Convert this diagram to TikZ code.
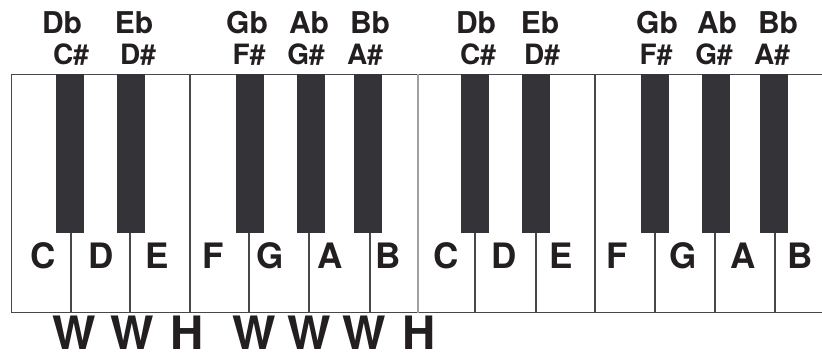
\documentclass[tikz,border=0pt]{standalone}
\usepackage{fontspec}
\setmainfont{TeX Gyre Heros}
\usepackage{tikz}
\usetikzlibrary{positioning}
\definecolor{keyblack}{RGB}{52,51,56}
\definecolor{keyline}{RGB}{72,72,76}
\definecolor{keyseamgray}{RGB}{160,160,160}
\definecolor{ink}{RGB}{35,31,32}
\tikzset{
    whitekey/.style={
        draw=keyline,
        line width=1.1pt,
        fill=white,
        anchor=north west,
        inner sep=0pt,
        minimum height=238pt
    },
    keysep/.style={
        line width=1.9pt,
        keyline
    },
    blackkey/.style={
        fill=keyblack,
        draw=none,
        anchor=north,
        inner sep=0pt,
        minimum width=28pt,
        minimum height=159pt
    },
    % letter styles
    flatname/.style={anchor=base, inner sep=0pt, ink, font=\fontsize{30}{32}\selectfont\bfseries},
    sharpname/.style={anchor=base, inner sep=0pt, ink, font=\fontsize{28}{30}\selectfont\bfseries},
    keyname/.style={anchor=base, inner sep=0pt, ink, font=\fontsize{35}{37}\selectfont\bfseries},
    stepname/.style={anchor=base, inner sep=0pt, ink, font=\fontsize{46}{48}\selectfont\bfseries}
}

\begin{document}
\begin{tikzpicture}[x=1pt, y=-1pt]
    \clip (0,0) rectangle (822,353);
    \fill[white] (0,0) rectangle (822,353);

    % white keys
    \foreach \i/\a/\b in {1/11/69.5, 2/69.5/129, 3/129/189, 4/189/248, 5/248/308, 6/308/369, 7/369/417,
                          8/417/474, 9/474/535, 10/535/594, 11/594/654, 12/654/714, 13/714/774, 14/774/840}
        \node[whitekey, minimum width={(\b-\a)*1pt}] (w\i) at (\a,74) {};

    \foreach \i in {1,...,6,8,9,...,13}
        \draw[keysep] (w\i.north east) -- (w\i.south east);
    \draw[line width=1.6pt, keyseamgray] (w7.north east) -- (w7.south east);

    % black keys
    \foreach \i/\x in {1/70, 2/130.5, 3/250, 4/310.5, 5/368, 6/475, 7/536, 8/655, 9/716, 10/774}
        \node[blackkey] (b\i) at (\x,74) {};

    % names of the black keys
    \foreach \i/\x/\t in {1/62/Db, 2/134/Eb, 3/247/Gb, 4/309/Ab, 5/370/Bb,
                          6/476/Db, 7/540/Eb, 8/657/Gb, 9/717/Ab, 10/778/Bb}
        \node[flatname] (fl\i) at (\x,34) {\t};
    \foreach \i/\x/\t in {1/71/C, 2/138/D, 3/249/F, 4/306/G, 5/365/A,
                          6/478/C, 7/542/D, 8/656/F, 9/714/G, 10/772/A}
        \node[sharpname] (sh\i) at (\x,65) {\t\#};

    % names of the white keys
    \foreach \i/\x/\t in {1/43/C, 2/101/D, 3/157/E, 4/213/F, 5/270/G, 6/330/A, 7/388/B,
                          8/446/C, 9/504/D, 10/561/E, 11/617/F, 12/683/G, 13/743/A, 14/800/B}
        \node[keyname] (n\i) at (\x,268) {\t};

    % whole and half steps
    \foreach \i/\x/\t in {1/74/W, 2/132/W, 3/187/H, 4/254/W, 5/309/W, 6/364/W, 7/419/H}
        \node[stepname] (s\i) at (\x,349) {\t};
\end{tikzpicture}
\end{document}
